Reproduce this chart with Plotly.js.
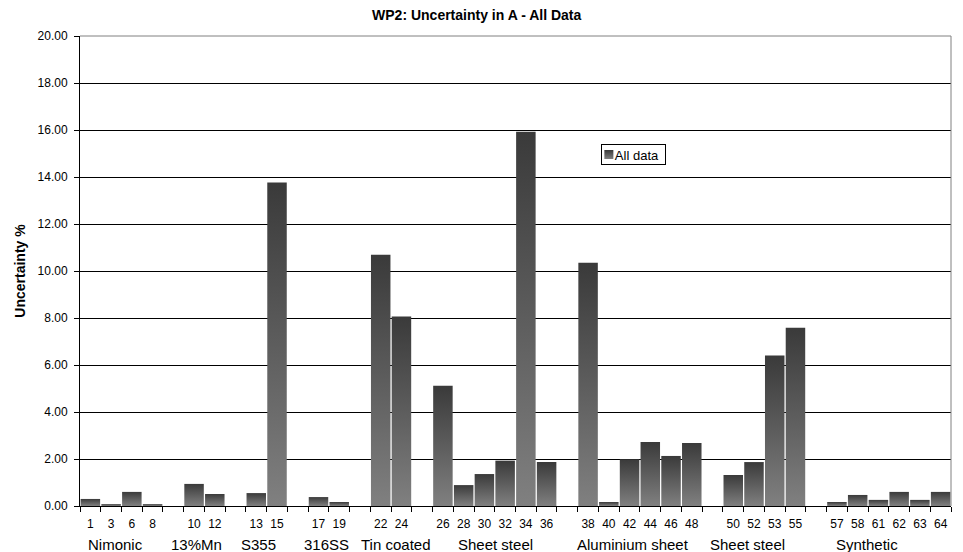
<!DOCTYPE html>
<html>
<head>
<meta charset="utf-8">
<script src="https://cdn.plot.ly/plotly-3.0.1.min.js"></script>
<style>
  html, body { margin: 0; padding: 0; background: #fff; }
  #chart { width: 963px; height: 552px; }
</style>
</head>
<body>
<div id="chart"></div>
<script>
// ---- data ----
const sampleIds = ["1","3","6","8","10","12","13","15","17","19","22","24",
  "26","28","30","32","34","36","38","40","42","44","46","48",
  "50","52","53","55","57","58","61","62","63","64"];
const uncertainty = [0.30,0.08,0.60,0.08,0.94,0.51,0.55,13.77,0.38,0.17,10.69,8.06,
  5.12,0.89,1.36,1.93,15.93,1.87,10.35,0.17,1.99,2.72,2.13,2.68,
  1.32,1.87,6.40,7.59,0.17,0.47,0.26,0.60,0.26,0.60];
const groupNames = ["Nimonic","13%Mn","S355","316SS","Tin coated","Sheet steel",
  "Aluminium sheet","Sheet steel","Synthetic"];
const groupSizes = [4,2,2,2,2,6,6,4,6];
const seriesName = "All data";

// ---- build category axis with an empty slot between groups ----
const cats = [], ticktext = [], yvals = [], groupCenters = [];
let k = 0, gap = 0;
groupSizes.forEach((n, g) => {
  const start = cats.length;
  for (let i = 0; i < n; i++, k++) {
    cats.push(sampleIds[k]); ticktext.push(sampleIds[k]); yvals.push(uncertainty[k]);
  }
  groupCenters.push(start + (n - 1) / 2);
  if (g < groupSizes.length - 1) {
    gap++; cats.push("gap" + gap); ticktext.push(""); yvals.push(null);
  }
});

// label placement tweaks (slots) to follow the reference text positions
const labelShift = [-0.31,-0.36,-0.37,-0.11,0.26,0.03,-0.34,-0.8,-1.03];

const FONT = '"Liberation Sans", Arial, sans-serif';

const trace = {
  type: 'bar',
  x: cats,
  y: yvals,
  name: seriesName,
  showlegend: true,
  marker: { color: '#5a5a5a', line: { width: 0 } },
  hoverinfo: 'skip'
};

const annotations = groupNames.map((name, i) => ({
  text: name,
  xref: 'x', yref: 'paper',
  x: groupCenters[i] + labelShift[i],
  y: -0.081,
  xanchor: 'center', yanchor: 'middle',
  showarrow: false,
  font: { family: FONT, size: 15, color: '#000' }
}));

const layout = {
  width: 963, height: 552,
  margin: { l: 80, r: 12, t: 36, b: 46 },
  paper_bgcolor: '#fff', plot_bgcolor: '#fff',
  font: { family: FONT, color: '#000' },
  title: {
    text: '<b>WP2: Uncertainty in A - All Data</b>',
    font: { family: FONT, size: 14, color: '#000' },
    xref: 'container', x: 0.495, xanchor: 'center',
    yref: 'container', y: 0.973, yanchor: 'middle'
  },
  bargap: 0.06,
  showlegend: true,
  legend: {
    x: 0.598, xanchor: 'left', y: 0.770, yanchor: 'top',
    bgcolor: '#fff', bordercolor: '#000', borderwidth: 1,
    font: { family: FONT, size: 13, color: '#000' },
    itemwidth: 30, tracegroupgap: 0
  },
  xaxis: {
    type: 'category',
    categoryorder: 'array', categoryarray: cats,
    tickmode: 'array', tickvals: cats, ticktext: ticktext,
    tickson: 'boundaries',
    ticks: 'outside', ticklen: 5, tickcolor: '#000', tickwidth: 1,
    tickangle: 0,
    showline: true, linecolor: '#000', linewidth: 1,
    showgrid: false, zeroline: false,
    range: [-0.5, cats.length - 0.5],
    tickfont: { family: FONT, size: 12, color: '#000' },
    ticklabelstandoff: 7,
    fixedrange: true
  },
  yaxis: {
    range: [0, 20], dtick: 2, tick0: 0,
    tickformat: '.2f',
    ticks: 'outside', ticklen: 5, tickcolor: '#000', tickwidth: 1,
    showline: true, linecolor: '#000', linewidth: 1,
    showgrid: true, gridcolor: '#000', gridwidth: 1,
    zeroline: false,
    tickfont: { family: FONT, size: 12, color: '#000' },
    ticklabelstandoff: 4,
    title: { text: '<b>Uncertainty %</b>', font: { family: FONT, size: 14, color: '#000' }, standoff: 8 },
    fixedrange: true
  },
  shapes: [
    { type: 'line', xref: 'paper', yref: 'paper', x0: 0, x1: 1, y0: 1, y1: 1, line: { color: '#808080', width: 1 } },
    { type: 'line', xref: 'paper', yref: 'paper', x0: 1, x1: 1, y0: 0, y1: 1, line: { color: '#808080', width: 1 } }
  ],
  annotations: annotations
};

Plotly.newPlot('chart', [trace], layout, { staticPlot: true, displayModeBar: false }).then(gd => {
  // vertical dark-to-light gradient on every bar and on the legend swatch
  const ns = 'http://www.w3.org/2000/svg';
  const svg = gd.querySelector('svg.main-svg');
  let defs = svg.querySelector('defs');
  if (!defs) { defs = document.createElementNS(ns, 'defs'); svg.insertBefore(defs, svg.firstChild); }
  const lg = document.createElementNS(ns, 'linearGradient');
  lg.setAttribute('id', 'barGrad');
  lg.setAttribute('x1', '0'); lg.setAttribute('y1', '0');
  lg.setAttribute('x2', '0'); lg.setAttribute('y2', '1');
  [['0', '#3a3a3a'], ['1', '#808080']].forEach(([o, c]) => {
    const s = document.createElementNS(ns, 'stop');
    s.setAttribute('offset', o); s.setAttribute('stop-color', c);
    lg.appendChild(s);
  });
  defs.appendChild(lg);
  gd.querySelectorAll('.bars .point path, .legend .legendpoints path').forEach(p => {
    p.style.fill = 'url(#barGrad)';
  });

  // compact legend box like the reference (small swatch right before the text)
  try {
    const leg = gd.querySelector('.legend');
    const bg = leg.querySelector('rect.bg');
    const oldH = +bg.getAttribute('height');
    const newW = 64, newH = 20;
    bg.setAttribute('width', newW); bg.setAttribute('height', newH);
    const tr = leg.querySelector('.traces');
    const m = /translate\(\s*([-\d.]+)[ ,]+([-\d.]+)\s*\)/.exec(tr.getAttribute('transform') || '');
    if (m) tr.setAttribute('transform', 'translate(' + m[1] + ',' + (+m[2] - (oldH - newH) / 2) + ')');
    const txt = leg.querySelector('.legendtext');
    txt.setAttribute('x', 13);
    const sw = leg.querySelector('.legendpoints path');
    sw.setAttribute('d', 'M4.5,4.5H-4.5V-4.5H4.5Z');
    sw.setAttribute('transform', 'translate(7,0)');
  } catch (e) {}
});
</script>
</body>
</html>
